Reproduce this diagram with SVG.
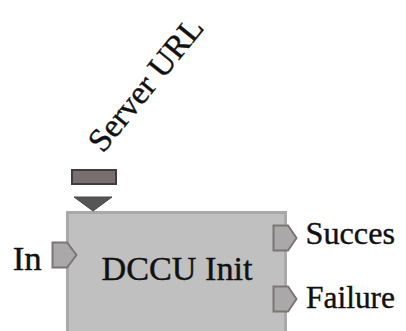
<svg xmlns="http://www.w3.org/2000/svg" width="406" height="331" viewBox="0 0 406 331">
<style>
.lbl{font-family:"Liberation Serif","Times New Roman",serif;fill:#111;stroke:#111;stroke-width:0.4}
.port{fill:#a9a9a9;stroke:#7d7575;stroke-width:2}
</style>
<rect width="406" height="331" fill="#ffffff"/>
<g id="node-dccu">
<rect x="67.5" y="212.5" width="218" height="130" fill="#c0c0c0" stroke="#a9a9a9" stroke-width="3"/>
<text class="lbl" x="177" y="280" font-size="34" text-anchor="middle" textLength="151" lengthAdjust="spacingAndGlyphs">DCCU Init</text>
</g>
<g id="param-server-url">
<rect x="72" y="170" width="44" height="14" fill="#787070" stroke="#3e3e3e" stroke-width="2"/>
<polygon points="74,197 112,197 93,211" fill="#555555" stroke="#484848" stroke-width="1"/>
<text class="lbl" font-size="33" transform="translate(103,154) rotate(-51)" textLength="162" lengthAdjust="spacingAndGlyphs">Server URL</text>
</g>
<g id="port-in">
<polygon class="port" points="52.5,242.5 67,242.5 76.5,255 67,267.5 52.5,267.5"/>
<text class="lbl" x="12.7" y="270" font-size="33" textLength="29" lengthAdjust="spacingAndGlyphs">In</text>
</g>
<g id="port-succes">
<polygon class="port" points="273.5,225.5 288,225.5 296.5,238 288,250.5 273.5,250.5"/>
<text class="lbl" x="305.5" y="243.5" font-size="32" textLength="89.5" lengthAdjust="spacingAndGlyphs">Succes</text>
</g>
<g id="port-failure">
<polygon class="port" points="273.5,286.5 288,286.5 296.5,299 288,311.5 273.5,311.5"/>
<text class="lbl" x="306" y="308" font-size="32" textLength="89" lengthAdjust="spacingAndGlyphs">Failure</text>
</g>
<g id="connectors"></g>
</svg>
